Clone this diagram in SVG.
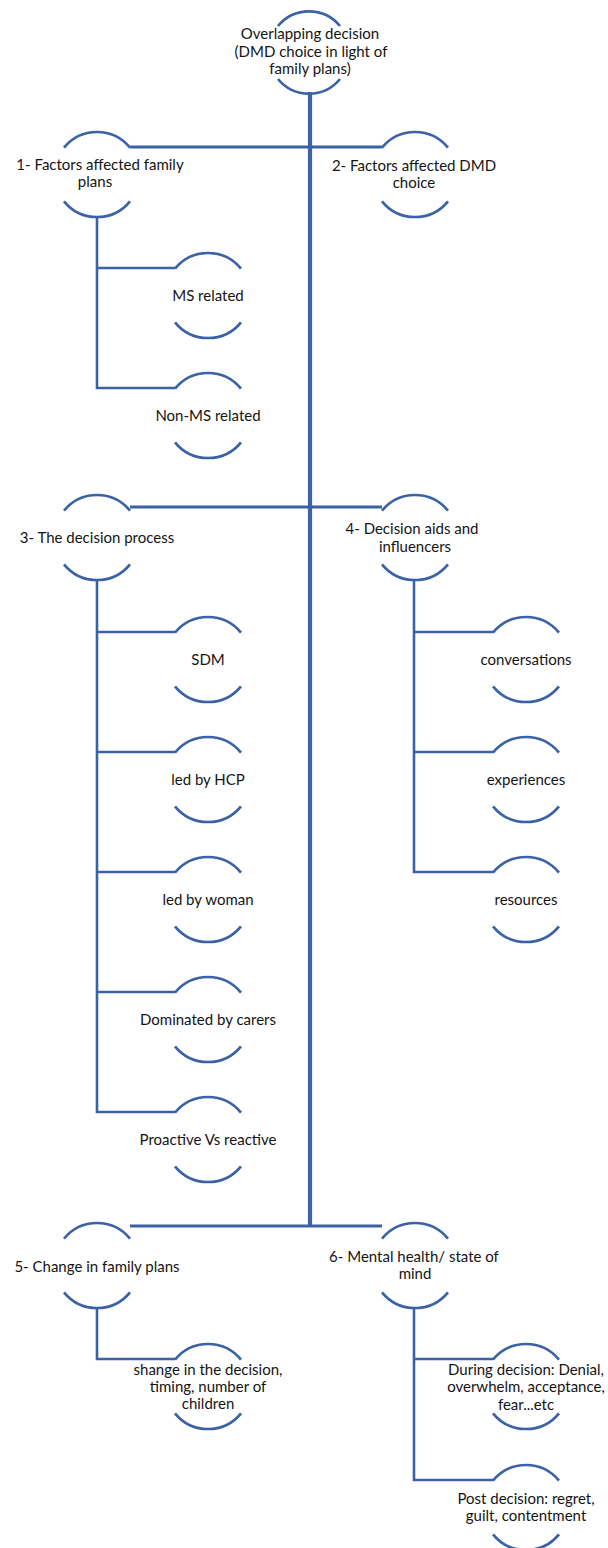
<svg xmlns="http://www.w3.org/2000/svg" xmlns:xlink="http://www.w3.org/1999/xlink" width="608" height="1548" viewBox="0 0 608 1548">
  <style>
    .arc { fill: none; stroke: #3B62A6; stroke-width: 2.7; }
    .trunk { fill: none; stroke: #3B62A6; stroke-width: 4.2; }
    .link { fill: none; stroke: #3B62A6; stroke-width: 2.8; }
    .sub { fill: none; stroke: #3B62A6; stroke-width: 2.6; }
    text { font-family: Lato, "Liberation Sans", sans-serif; font-size: 15px; fill: #141414; text-anchor: middle; }
  </style>
  <defs>
    <!-- half-circle node outline: top and bottom arcs of a circle, open at left and right -->
    <path id="ring" class="arc" d="M-33,-26.8 A42.5,42.5 0 0 1 33,-26.8 M-33,26.8 A42.5,42.5 0 0 0 33,26.8"/>
    <path id="ringTop" class="arc" d="M-31,-26.5 A40,40 0 0 1 31,-26.5 M-31,26.5 A40,40 0 0 0 31,26.5"/>
  </defs>

  <rect width="608" height="1548" fill="#ffffff"/>

  <g id="connectors">
    <!-- central trunk -->
    <path class="trunk" d="M310,92 V1227"/>
    <!-- level bars -->
    <path class="link" d="M130,147 H382 M130,507 H382 M130,1226 H382"/>
    <!-- branch 1 -->
    <path class="sub" d="M97,217 V388 H175 M97,268 H175"/>
    <!-- branch 3 -->
    <path class="sub" d="M97,580 V1112 H175 M97,632 H175 M97,752 H175 M97,872 H175 M97,992 H175"/>
    <!-- branch 4 -->
    <path class="sub" d="M414,580 V872 H493 M414,632 H493 M414,752 H493"/>
    <!-- branch 5 -->
    <path class="sub" d="M97,1308 V1359 H175"/>
    <!-- branch 6 -->
    <path class="sub" d="M414,1308 V1480 H493 M414,1359 H493"/>
  </g>

  <g id="root">
    <use xlink:href="#ringTop" x="309" y="52.5"/>
    <text x="310" y="39">Overlapping decision</text>
    <text x="311" y="57">(DMD choice in light of</text>
    <text x="310" y="74">family plans)</text>
  </g>

  <g id="n1">
    <use xlink:href="#ring" x="97" y="174.5"/>
    <text x="100" y="170">1- Factors affected family</text>
    <text x="95" y="187">plans</text>
  </g>
  <g id="n1a">
    <use xlink:href="#ring" x="208" y="295.5"/>
    <text x="208" y="301">MS related</text>
  </g>
  <g id="n1b">
    <use xlink:href="#ring" x="208" y="415.5"/>
    <text x="208" y="421">Non-MS related</text>
  </g>

  <g id="n2">
    <use xlink:href="#ring" x="415" y="174.5"/>
    <text x="414" y="171">2- Factors affected DMD</text>
    <text x="414" y="188">choice</text>
  </g>

  <g id="n3">
    <use xlink:href="#ring" x="97" y="537.5"/>
    <text x="97" y="543">3- The decision process</text>
  </g>
  <g id="n3a">
    <use xlink:href="#ring" x="208" y="659.5"/>
    <text x="208" y="665">SDM</text>
  </g>
  <g id="n3b">
    <use xlink:href="#ring" x="208" y="779.5"/>
    <text x="208" y="785">led by HCP</text>
  </g>
  <g id="n3c">
    <use xlink:href="#ring" x="208" y="899.5"/>
    <text x="208" y="905">led by woman</text>
  </g>
  <g id="n3d">
    <use xlink:href="#ring" x="208" y="1019.5"/>
    <text x="208" y="1025">Dominated by carers</text>
  </g>
  <g id="n3e">
    <use xlink:href="#ring" x="208" y="1139.5"/>
    <text x="208" y="1145">Proactive Vs reactive</text>
  </g>

  <g id="n4">
    <use xlink:href="#ring" x="415" y="537.5"/>
    <text x="412" y="534">4- Decision aids and</text>
    <text x="415" y="552">influencers</text>
  </g>
  <g id="n4a">
    <use xlink:href="#ring" x="526" y="659.5"/>
    <text x="526" y="665">conversations</text>
  </g>
  <g id="n4b">
    <use xlink:href="#ring" x="526" y="779.5"/>
    <text x="526" y="785">experiences</text>
  </g>
  <g id="n4c">
    <use xlink:href="#ring" x="526" y="899.5"/>
    <text x="526" y="905">resources</text>
  </g>

  <g id="n5">
    <use xlink:href="#ring" x="97" y="1265.5"/>
    <text x="97" y="1272">5- Change in family plans</text>
  </g>
  <g id="n5a">
    <use xlink:href="#ring" x="208" y="1386.5"/>
    <text x="208" y="1375">shange in the decision,</text>
    <text x="208" y="1392">timing, number of</text>
    <text x="208" y="1409">children</text>
  </g>

  <g id="n6">
    <use xlink:href="#ring" x="415" y="1265.5"/>
    <text x="414" y="1262">6- Mental health/ state of</text>
    <text x="415" y="1279">mind</text>
  </g>
  <g id="n6a">
    <use xlink:href="#ring" x="526" y="1386.5"/>
    <text x="526" y="1375">During decision: Denial,</text>
    <text x="526" y="1392">overwhelm, acceptance,</text>
    <text x="526" y="1410">fear...etc</text>
  </g>
  <g id="n6b">
    <use xlink:href="#ring" x="526" y="1507.5"/>
    <text x="526" y="1504">Post decision: regret,</text>
    <text x="526" y="1521">guilt, contentment</text>
  </g>
</svg>
